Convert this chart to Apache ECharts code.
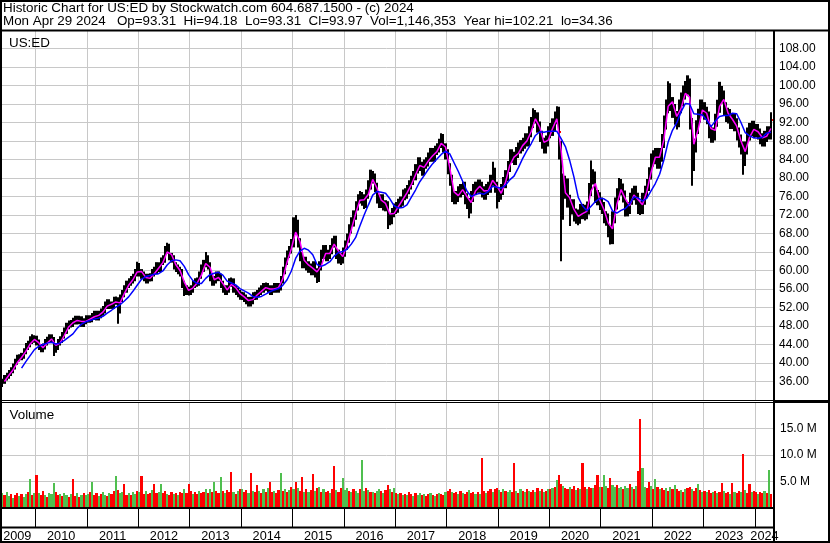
<!DOCTYPE html>
<html>
<head>
<meta charset="utf-8">
<script src="https://cdn.jsdelivr.net/npm/echarts@6/dist/echarts.min.js"></script>
<style>html,body{margin:0;padding:0;background:#fff}#chart{width:830px;height:543px}</style>
</head>
<body>
<div id="chart"></div>
<script>
// ---------------- DATA (semi-monthly periods, late Apr 2009 .. late Apr 2024) ----------------
const firstPeriod = 2009.3125;   // decimal year of the first half-month period
const periodsPerYear = 24;
const yearLabels = ['2009','2010','2011','2012','2013','2014','2015','2016','2017','2018','2019','2020','2021','2022','2023','2024'];
const priceTickStep = 4;
const volumeTickStep = 5;

const closeVals = [
/*2009*/ 35.2,36.0,36.8,37.2,37.8,38.4,39.2,40.2,41.0,41.2,41.5,42.5,43.5,44.0,44.8,45.3,45.2,
/*2010*/ 44.5,43.5,43.0,43.5,44.5,45.0,45.5,45.0,43.0,43.5,44.5,45.0,46.0,47.0,48.0,48.5,48.5,49.0,49.5,49.0,49.5,48.5,49.0,49.5,
/*2011*/ 49.5,49.5,50.0,50.5,50.0,50.5,51.0,51.5,52.5,53.0,52.5,52.5,53.5,53.5,51.5,54.0,55.0,56.0,57.0,57.5,58.0,58.5,59.5,61.0,
/*2012*/ 59.5,59.0,58.5,58.0,58.5,58.5,59.5,60.0,61.0,60.5,62.0,62.5,64.5,65.0,63.0,62.5,61.0,60.5,60.0,59.5,57.0,56.0,55.5,55.5,
/*2013*/ 56.0,57.0,57.5,57.5,59.0,60.5,61.5,62.5,61.0,58.5,57.5,58.0,59.0,58.5,57.0,56.0,55.5,56.0,57.5,57.5,56.0,55.5,55.0,54.5,
/*2014*/ 54.5,54.0,53.5,53.0,53.5,54.5,54.5,55.0,55.5,56.0,56.5,56.5,56.0,55.5,56.0,56.5,56.0,56.5,58.0,60.0,62.0,63.5,64.5,66.0,
/*2015*/ 69.0,70.0,66.0,63.0,61.5,62.0,61.0,60.5,60.0,61.0,59.5,58.5,61.0,63.5,64.5,63.0,63.5,64.5,66.0,66.5,63.5,62.5,62.5,64.0,
/*2016*/ 65.5,67.0,69.0,70.5,72.0,74.0,75.5,76.0,75.5,74.5,76.5,78.5,80.5,80.0,78.0,75.5,74.5,75.5,74.0,74.0,71.5,71.0,72.5,73.5,
/*2017*/ 73.5,74.5,75.0,76.5,76.5,77.5,78.5,79.5,80.5,82.0,83.5,82.5,81.5,83.0,83.5,84.5,85.5,84.5,86.0,86.5,87.5,88.5,86.5,85.0,
/*2018*/ 82.0,79.5,76.0,75.5,76.0,77.0,77.5,78.0,75.5,74.5,73.5,76.0,77.5,78.0,78.5,78.0,77.0,76.5,77.5,78.0,79.5,81.0,78.0,76.0,
/*2019*/ 76.5,77.5,79.0,80.5,82.5,85.0,84.5,84.0,85.5,86.5,87.0,87.5,88.5,88.0,90.0,92.0,93.5,93.0,91.0,89.0,87.5,86.5,88.0,90.0,
/*2020*/ 90.5,91.5,93.0,94.0,90.0,74.0,78.0,78.5,75.0,73.5,74.0,72.0,71.5,71.5,73.0,72.5,72.5,73.5,77.5,80.5,80.0,76.0,75.5,74.5,
/*2021*/ 73.5,71.5,71.0,68.5,67.0,71.5,74.5,76.5,78.5,77.5,76.0,73.0,73.5,75.5,76.5,77.0,75.5,73.5,73.5,75.5,77.0,78.5,81.0,84.0,
/*2022*/ 84.5,85.0,83.5,85.0,88.0,92.0,95.5,99.0,96.0,94.5,93.0,92.5,95.5,97.0,98.5,99.5,101.0,92.0,83.0,87.0,91.0,93.5,95.5,95.0,
/*2023*/ 94.0,93.0,90.0,89.0,89.5,92.5,95.5,98.5,97.5,95.0,93.5,93.5,92.0,92.5,91.5,89.5,88.0,86.5,84.0,86.5,89.5,90.5,91.0,90.0,
/*2024*/ 90.5,89.5,88.5,88.0,89.0,90.0,89.5,92.5
];

const highVals = [
/*2009*/ 36.0,36.6,37.4,37.9,38.5,39.1,39.9,40.9,41.8,41.9,42.2,43.2,44.3,44.8,45.8,46.2,46.0,
/*2010*/ 45.9,45.1,44.1,44.2,45.2,45.7,46.2,46.2,45.6,44.3,45.2,45.8,46.7,47.7,48.7,49.2,49.3,49.8,50.2,50.2,50.2,50.1,49.7,50.3,
/*2011*/ 50.3,50.3,50.8,51.3,51.3,51.3,51.8,52.3,53.3,53.8,53.8,53.3,54.3,54.4,54.2,54.8,55.8,56.8,57.8,58.3,58.8,59.3,60.3,61.9,
/*2012*/ 61.6,60.3,59.8,59.3,59.3,59.4,60.3,60.8,61.8,61.8,62.8,63.3,65.3,66.0,65.8,63.8,63.3,61.8,61.3,60.8,60.3,57.8,56.8,56.5,
/*2013*/ 56.8,57.8,58.3,58.5,59.8,61.3,62.3,64.0,63.3,61.8,59.3,58.8,59.8,59.8,59.3,57.8,56.8,56.8,58.3,58.5,58.3,56.8,56.3,55.8,
/*2014*/ 55.4,55.3,54.8,54.3,54.3,55.3,55.4,55.8,56.3,56.8,57.3,57.4,57.3,56.8,56.8,57.3,57.3,57.3,58.8,60.8,62.8,64.3,65.3,66.8,
/*2015*/ 71.5,72.0,71.0,67.0,64.0,63.0,63.0,62.0,61.5,62.0,62.0,60.5,62.0,64.5,65.5,65.5,64.5,65.5,67.0,67.5,67.5,64.5,63.8,65.0,
/*2016*/ 66.5,68.0,70.0,71.5,73.0,75.0,76.5,77.2,77.0,76.5,77.5,79.5,81.8,81.5,81.0,79.0,76.5,76.5,76.5,75.2,75.0,72.5,73.5,74.5,
/*2017*/ 74.8,75.5,76.0,77.5,77.8,78.5,79.5,80.5,81.5,83.0,84.5,84.5,83.5,84.0,84.5,85.5,86.5,86.5,87.0,87.5,88.5,89.7,89.5,87.5,
/*2018*/ 86.2,83.2,80.7,77.2,77.2,78.2,78.7,79.2,79.2,76.7,75.7,77.2,78.7,79.2,79.7,79.7,79.2,78.2,78.7,79.2,80.7,83.5,82.2,79.2,
/*2019*/ 77.7,78.7,80.2,81.7,83.7,86.2,86.2,85.7,86.7,87.7,88.2,88.7,89.7,89.7,91.2,93.2,95.1,94.7,94.2,92.2,90.2,88.7,89.2,91.2,
/*2020*/ 91.9,92.9,94.4,95.5,95.4,88.0,81.0,80.5,79.9,76.4,75.4,75.4,73.4,73.2,74.4,74.4,74.2,74.9,78.9,83.8,81.9,81.4,77.4,76.9,
/*2021*/ 75.8,74.8,72.8,72.3,69.8,72.8,75.8,77.8,80.0,79.8,78.8,77.3,74.8,76.8,77.8,78.3,78.3,76.8,75.0,76.8,78.3,79.8,82.3,85.3,
/*2022*/ 86.0,86.5,86.5,86.5,89.5,93.5,97.0,100.9,100.5,97.5,96.0,94.5,97.0,98.5,100.0,101.0,102.2,101.5,93.0,88.5,92.5,95.0,97.0,97.0,
/*2023*/ 96.4,95.4,94.4,91.4,90.9,93.9,96.9,100.8,99.9,98.9,96.4,95.2,94.9,93.9,93.9,92.9,90.9,89.4,87.9,87.9,90.9,91.9,92.4,92.4,
/*2024*/ 91.7,91.7,90.7,89.7,90.2,91.2,91.2,94.2
];

const lowVals = [
/*2009*/ 34.4,34.8,35.5,36.2,36.6,37.2,37.8,38.6,39.6,40.3,40.6,40.9,41.9,42.8,43.4,44.1,44.4,
/*2010*/ 43.8,42.8,42.3,42.3,42.9,43.8,44.3,44.3,41.5,42.2,42.8,43.8,44.3,45.3,46.3,47.3,47.7,47.8,48.3,48.3,48.4,47.8,47.8,48.4,
/*2011*/ 48.7,48.7,48.8,49.3,49.2,49.2,49.7,50.2,50.7,51.7,51.7,51.7,51.7,52.6,48.5,50.7,53.2,54.2,55.2,56.2,56.7,57.2,57.7,58.7,
/*2012*/ 58.7,58.2,57.7,57.2,57.2,57.6,57.7,58.7,59.2,59.7,59.7,61.2,61.7,63.7,62.2,61.7,60.2,59.7,59.2,58.7,56.2,54.5,54.7,54.6,
/*2013*/ 54.7,55.2,56.2,56.5,56.7,58.2,59.7,60.7,60.2,57.7,56.7,56.7,57.2,57.7,56.2,55.2,54.7,54.7,55.2,56.5,55.2,54.7,54.2,53.7,
/*2014*/ 53.6,53.2,52.7,52.2,52.2,52.7,53.6,53.7,54.2,54.7,55.2,55.6,55.2,54.7,54.7,55.2,55.2,55.2,55.7,57.2,59.2,61.2,62.7,63.7,
/*2015*/ 65.0,68.0,65.0,62.0,60.5,60.5,60.0,59.5,59.0,59.0,58.5,57.3,57.5,60.0,62.5,62.0,62.0,62.5,63.5,65.0,62.5,61.5,61.2,61.5,
/*2016*/ 63.0,64.5,66.0,68.0,69.5,71.0,73.0,74.5,74.0,73.3,73.5,75.5,77.5,78.8,77.0,74.5,73.5,73.5,73.0,72.8,69.0,69.8,70.0,71.5,
/*2017*/ 72.2,72.5,73.5,74.0,75.2,75.5,76.5,77.5,78.5,79.5,81.0,81.5,80.5,80.5,82.0,82.5,83.5,83.5,83.5,85.0,85.5,86.5,85.5,84.0,
/*2018*/ 80.8,78.3,74.8,74.3,74.3,74.8,75.8,76.3,74.3,73.3,71.3,72.3,74.8,76.3,76.8,76.8,75.8,75.3,75.3,76.3,76.8,78.3,76.8,73.4,
/*2019*/ 74.8,75.3,76.3,77.8,79.3,81.3,83.3,82.8,82.8,84.3,85.3,85.8,86.3,86.8,86.8,88.8,90.8,91.8,89.8,87.8,86.3,85.3,85.3,86.8,
/*2020*/ 88.6,89.1,90.1,91.6,84.0,62.0,71.0,75.5,73.6,69.6,72.1,70.6,70.1,69.8,70.1,71.1,70.8,71.1,72.1,76.1,78.6,74.6,74.1,73.1,
/*2021*/ 72.2,70.2,69.7,67.2,65.6,65.7,70.2,73.2,75.2,76.2,74.7,71.7,71.7,72.2,74.2,75.2,74.2,72.2,72.0,72.2,74.2,75.7,77.2,79.7,
/*2022*/ 82.5,83.0,82.0,82.0,83.5,86.5,90.5,94.0,94.5,93.0,91.5,90.5,91.0,94.0,95.5,97.0,98.0,90.5,78.3,81.5,85.5,89.5,92.0,93.5,
/*2023*/ 92.6,91.6,88.6,87.6,87.6,88.1,91.1,94.1,96.1,93.6,92.1,91.8,90.6,90.6,90.1,88.1,86.6,85.1,80.7,82.6,85.1,88.1,89.1,88.6,
/*2024*/ 88.8,88.3,87.3,86.8,86.8,87.8,88.3,88.3
];

// volume in millions of shares
const volumeM = [
/*2009*/ 6.3,2.8,2.4,3.0,2.2,2.6,1.9,2.5,2.9,2.3,2.7,2.0,2.6,3.1,5.5,2.4,2.8,
/*2010*/ 6.2,2.9,2.5,3.2,2.4,2.1,2.8,2.6,4.8,3.0,2.5,2.7,2.2,2.9,2.4,2.0,2.6,5.5,2.3,2.8,2.1,2.5,2.9,2.4,
/*2011*/ 2.6,3.1,4.9,2.4,2.8,2.2,2.7,3.0,2.5,2.3,2.9,2.6,3.2,6.0,3.4,2.8,3.1,4.6,2.5,2.9,2.4,3.0,2.7,3.3,
/*2012*/ 3.0,6.1,2.7,3.2,2.6,2.9,3.4,4.5,2.8,3.1,4.5,2.9,3.3,2.7,2.5,3.0,2.6,2.9,2.4,3.1,2.8,3.5,2.9,4.5,
/*2013*/ 3.2,2.7,3.0,2.6,3.3,2.8,3.1,3.5,2.9,3.6,3.0,5.0,3.2,2.8,5.8,3.3,2.9,3.4,3.0,6.8,3.1,2.7,3.2,3.5,
/*2014*/ 3.6,3.1,3.4,2.9,6.6,3.3,3.0,4.4,3.2,2.8,3.5,3.1,3.8,4.9,3.0,3.3,2.8,3.4,6.6,3.2,3.6,3.0,3.4,3.9,
/*2015*/ 3.5,5.0,3.8,3.3,5.8,3.1,3.6,3.0,3.4,6.4,3.2,3.7,3.9,3.1,3.5,3.0,3.3,2.9,3.6,7.9,3.4,3.1,3.8,5.6,
/*2016*/ 3.4,3.7,3.2,3.0,3.5,3.3,2.9,3.6,9.1,3.2,3.8,3.4,3.1,3.0,2.8,3.3,3.6,3.2,2.9,3.4,4.3,3.5,3.1,3.7,
/*2017*/ 2.9,2.6,2.8,2.4,2.7,2.5,3.0,2.6,2.3,2.8,2.5,2.9,2.4,2.7,2.2,2.6,2.8,2.5,2.3,2.7,2.9,2.6,2.4,3.0,
/*2018*/ 3.2,3.6,3.0,2.8,3.1,2.7,3.3,2.9,2.6,3.0,3.4,2.8,3.1,2.7,3.0,2.6,9.5,3.2,2.9,3.3,3.6,3.1,3.5,3.8,
/*2019*/ 3.4,3.0,3.6,3.2,3.0,3.4,3.1,8.5,3.3,2.9,3.5,3.2,3.0,3.6,3.3,3.1,3.4,3.0,3.7,3.2,3.5,3.1,3.3,3.6,
/*2020*/ 3.5,3.8,4.0,5.3,6.2,4.6,4.1,3.8,3.5,3.9,3.6,4.2,3.4,3.7,3.5,8.5,3.9,3.6,4.0,3.7,3.8,4.3,6.3,3.9,
/*2021*/ 4.0,6.2,4.1,3.8,5.6,4.3,3.9,4.4,3.7,4.0,3.6,4.1,3.8,4.5,3.9,3.6,4.2,7.0,16.8,7.5,4.0,3.7,4.9,4.2,
/*2022*/ 3.6,5.4,3.9,3.5,3.8,3.4,3.7,3.3,3.9,3.5,4.4,3.6,3.2,3.4,3.0,3.5,3.8,4.0,3.6,3.3,3.7,4.6,3.4,3.1,
/*2023*/ 3.2,3.0,3.4,2.9,3.1,3.3,2.8,3.0,4.7,3.2,2.9,3.1,2.7,4.7,3.0,2.8,3.3,3.0,10.1,3.4,2.9,4.6,3.1,3.3,
/*2024*/ 3.0,2.7,3.1,2.8,3.2,2.9,7.2,2.6
];

// volume bar colour read per period: g = up (green), r = down (red)
const volumeColours = [
/*2009*/ 'rgrggrgrrgrggrgrg',
/*2010*/ 'rgrrgrgggrrgrggrgrrgrgrg',
/*2011*/ 'grgrrgrggrgrrgrggrrgrggr',
/*2012*/ 'grrgrrgrrggrrgrrgrgrrgrr',
/*2013*/ 'rgrrgrrgrgrgrrgrgrrrgrgr',
/*2014*/ 'grrgrgrrgrgrgrrgrrgrgrgr',
/*2015*/ 'grgrrgrgrrgrgrgrrgrrgrrg',
/*2016*/ 'ggrgrggrggrgrgrggrgrrgrg',
/*2017*/ 'rgrgrgrrgrggrgrrgrgrgrrg',
/*2018*/ 'rrgrrgrgrrgrrgrgrrgrrgrr',
/*2019*/ 'grgrggrrgrgrgrgrrgrgrgrg',
/*2020*/ 'rgrgrrgrrgrrgrgrrgrrgrrg',
/*2021*/ 'rggrrggrggrggrgrgrrggrrg',
/*2022*/ 'rgrgrrgrgrgrrgrgrrgrrgrg',
/*2023*/ 'rgrrgrgrrgrrgrgrrgrgrrgr',
/*2024*/ 'rgrrgrgr'
];

// moving averages read at monthly steps (one value per month from late Apr 2009)
const maFast = [
null,36.0,37.3,38.5,40.1,41.2,42.5,44.1,45.1,44.4,43.3,44.3,
45.2,43.8,44.3,46.0,47.8,48.7,49.2,49.0,49.0,49.5,50.0,50.3,
51.0,52.3,52.7,53.2,53.0,55.0,56.8,58.0,59.7,59.8,58.5,58.3,
59.3,60.5,61.7,64.0,63.5,61.3,60.0,57.5,55.7,56.2,57.3,59.0,
61.5,60.7,58.0,58.5,57.2,55.8,57.0,56.3,55.0,54.3,53.5,53.7,
54.7,55.5,56.3,56.0,56.0,56.3,58.2,61.8,64.7,68.3,66.3,62.2,
61.2,60.5,59.7,61.0,63.7,63.7,65.7,64.2,63.0,65.5,68.8,72.2,
75.2,75.3,76.5,79.7,77.8,75.2,74.5,72.2,72.3,73.8,75.3,76.8,
78.5,80.7,82.7,82.3,83.7,84.8,85.7,87.5,86.7,82.2,77.0,76.2,
77.5,76.0,74.7,77.2,78.2,77.2,77.3,79.5,78.3,76.7,79.0,82.7,
84.5,85.3,87.0,88.0,90.0,92.8,91.0,87.7,88.2,90.7,92.8,86.0,
76.8,75.7,73.2,71.7,72.3,72.8,77.2,78.8,75.3,73.2,70.3,69.0,
74.2,77.5,75.5,74.0,76.3,75.3,74.2,77.0,81.2,84.5,84.5,88.3,
95.5,96.5,93.3,95.0,98.3,97.5,87.3,90.5,94.7,94.0,90.7,90.3,
95.5,97.0,94.0,92.7,91.2,88.0,85.7,88.8,90.5,90.0,88.7,89.0,
90.7
];

const maSlow = [
null,null,null,null,null,38.9,40.3,41.6,42.9,43.6,44.0,44.3,
44.5,44.1,44.3,44.9,45.6,46.3,47.5,48.4,48.9,49.2,49.5,49.7,
50.1,50.8,51.4,52.1,52.6,53.4,54.3,55.5,56.8,58.1,58.7,58.9,
59.2,59.3,59.9,61.2,62.1,62.3,62.1,60.9,59.1,57.8,57.2,57.2,
58.3,59.1,59.4,59.6,59.0,57.7,57.3,56.9,56.1,55.6,55.1,54.4,
54.2,54.4,54.9,55.4,55.8,56.1,56.8,58.0,59.9,62.6,64.2,64.8,
64.4,63.4,61.3,60.9,61.3,61.9,63.1,63.9,64.1,64.6,65.7,67.1,
69.6,72.0,74.2,76.3,77.1,76.9,76.7,75.5,74.0,73.5,73.6,74.2,
75.8,77.4,79.2,80.5,81.9,83.1,84.1,85.1,85.8,85.2,83.3,81.4,
79.3,77.2,76.0,76.4,76.7,76.5,77.1,78.2,78.0,77.8,78.4,79.6,
80.4,82.2,84.2,85.9,87.4,89.2,90.0,89.9,90.1,90.1,90.1,88.5,
86.8,83.8,80.2,75.8,74.0,72.9,73.9,74.9,75.6,75.5,74.9,72.9,
72.4,73.0,73.4,74.4,75.9,75.7,75.0,75.6,77.2,78.8,80.8,83.9,
87.8,90.3,91.9,94.3,96.1,96.0,93.9,93.8,93.6,92.5,91.1,92.3,
93.3,93.5,93.5,94.0,93.9,92.0,89.8,89.1,88.7,88.6,88.8,89.7,
89.9
];

const headerLine1 = 'Historic Chart for US:ED by Stockwatch.com 604.687.1500 - (c) 2024';
const headerLine2 = 'Mon Apr 29 2024   Op=93.31  Hi=94.18  Lo=93.31  Cl=93.97  Vol=1,146,353  Year hi=102.21  lo=34.36';
const symbolLabel = 'US:ED';
const volumeLabel = 'Volume';

// ---------------- BUILD ----------------
const FONT = '"Liberation Sans", Arial, Helvetica, sans-serif';
const GRID_C = '#c8c8c8';
const RED = '#ff0000', GREEN = '#4fbf4f';
const X_MIN = 2009, X_MAX = 2024.372;
const GL = -15.9, GW = 789.9;

const colourFlags = volumeColours.join('');
const n = Math.min(closeVals.length, highVals.length, lowVals.length, volumeM.length);
const tOf = i => firstPeriod + i / periodsPerYear;
const candleData = [], volData = [];
for (let i = 0; i < n; i++) {
  candleData.push([tOf(i), lowVals[i], highVals[i], closeVals[i]]);
  volData.push([tOf(i), volumeM[i], colourFlags[i] === 'g' ? 1 : 0]);
}
const maPoints = arr => arr.map((v, m) => v == null ? null : [firstPeriod + m / 12, v]).filter(p => p);
const visStart = firstPeriod - 0.5 / periodsPerYear;
const visEnd = X_MAX;
const labelData = yearLabels.map((s, k) => {
  const y = +s;
  const a = Math.max(y, visStart), b = Math.min(y + 1, visEnd);
  return [(a + b) / 2, 0.5];
});

// pixel-snapped horizontal extent of one period centred at px
function snapSpan(px, w) {
  const x0 = Math.floor(px - w / 2 + 0.5);
  const x1 = Math.floor(px + w / 2 + 0.5);
  return [x0, Math.max(1, x1 - x0)];
}

const chart = echarts.init(document.getElementById('chart'), null, {renderer: 'canvas'});

function baseX(gridIndex, extra) {
  return Object.assign({
    gridIndex, type: 'value', min: X_MIN, max: X_MAX, interval: 1,
    axisLine: {show: false}, axisTick: {show: false}, axisLabel: {show: false},
    splitLine: {show: true, lineStyle: {color: GRID_C, width: 1}}
  }, extra || {});
}

const option = {
  animation: false,
  backgroundColor: '#ffffff',
  grid: [
    {left: GL, width: GW, top: 30, height: 370, containLabel: false, outerBoundsMode: 'none'},
    {left: GL, width: GW, top: 402, height: 106, containLabel: false, outerBoundsMode: 'none'},
    {left: GL, width: GW, top: 528, height: 13, containLabel: false, outerBoundsMode: 'none'}
  ],
  xAxis: [
    baseX(0),
    baseX(1, {
      axisLine: {show: true, onZero: false, lineStyle: {color: '#000', width: 2}},
      axisTick: {show: true, inside: false, length: 19, lineStyle: {color: '#000', width: 1}}
    }),
    baseX(2, {show: false, splitLine: {show: false}})
  ],
  yAxis: [
    {gridIndex: 0, type: 'value', position: 'right', min: 32, max: 112, interval: priceTickStep,
     axisLine: {show: false}, axisTick: {show: false},
     splitLine: {show: true, lineStyle: {color: GRID_C, width: 1}},
     axisLabel: {show: true, color: '#000', fontSize: 12, fontFamily: FONT, margin: 5, align: 'left',
       padding: [3, 0, 0, 0],
       showMinLabel: false, showMaxLabel: false, formatter: v => v.toFixed(2)}},
    {gridIndex: 1, type: 'value', position: 'right', min: 0, max: 20, interval: volumeTickStep,
     axisLine: {show: false}, axisTick: {show: false},
     splitLine: {show: true, lineStyle: {color: GRID_C, width: 1}},
     axisLabel: {show: true, color: '#000', fontSize: 12, fontFamily: FONT, margin: 6, align: 'left',
       padding: [3, 0, 0, 0],
       showMinLabel: false, showMaxLabel: false, formatter: v => v.toFixed(1) + ' M'}},
    {gridIndex: 2, type: 'value', min: 0, max: 1, show: false}
  ],
  series: [
    {
      // close ticks (drawn under the bars, so only those sticking out stay visible)
      type: 'custom', xAxisIndex: 0, yAxisIndex: 0, data: candleData, z: 1,
      encode: {x: 0, y: 3},
      renderItem: (params, api) => {
        const t = api.value(0);
        const pc = api.coord([t, api.value(3)]);
        const w = api.size([1 / periodsPerYear, 0])[0];
        const s = snapSpan(pc[0], w);
        return {type: 'rect', shape: {x: s[0] + s[1], y: Math.round(pc[1]) - 1, width: 1, height: 2},
                style: {fill: RED}};
      }
    },
    {
      type: 'custom', xAxisIndex: 0, yAxisIndex: 0, data: candleData, z: 2,
      encode: {x: 0, y: [1, 2, 3]},
      renderItem: (params, api) => {
        const t = api.value(0);
        const pl = api.coord([t, api.value(1)]);
        const ph = api.coord([t, api.value(2)]);
        const w = api.size([1 / periodsPerYear, 0])[0];
        const s = snapSpan(pl[0], w);
        return {type: 'rect', shape: {x: s[0], y: ph[1], width: s[1], height: Math.max(1, pl[1] - ph[1])},
                style: {fill: '#000'}};
      }
    },
    {
      type: 'line', xAxisIndex: 0, yAxisIndex: 0, data: maPoints(maFast), z: 4,
      showSymbol: false, symbol: 'none', lineStyle: {color: '#ff00ff', width: 1.5}, silent: true
    },
    {
      type: 'line', xAxisIndex: 0, yAxisIndex: 0, data: maPoints(maSlow), z: 5,
      showSymbol: false, symbol: 'none', lineStyle: {color: '#0000ff', width: 1.5}, silent: true
    },
    {
      type: 'custom', xAxisIndex: 1, yAxisIndex: 1, data: volData, z: 2,
      encode: {x: 0, y: 1},
      renderItem: (params, api) => {
        const t = api.value(0);
        const p0 = api.coord([t, 0]);
        const p1 = api.coord([t, api.value(1)]);
        const w = api.size([1 / periodsPerYear, 0])[0];
        const s = snapSpan(p0[0], w);
        return {type: 'rect', shape: {x: s[0], y: Math.round(p1[1]), width: s[1], height: Math.round(p0[1]) - Math.round(p1[1])},
                style: {fill: api.value(2) ? GREEN : RED}};
      }
    },
    {
      type: 'custom', xAxisIndex: 2, yAxisIndex: 2, data: labelData, z: 5,
      encode: {x: 0, y: 1},
      renderItem: (params, api) => {
        const p = api.coord([api.value(0), api.value(1)]);
        return {type: 'text', x: p[0], y: p[1] + 2,
                style: {text: yearLabels[params.dataIndex], fill: '#000', font: '12.7px ' + FONT,
                        align: 'center', verticalAlign: 'middle'}};
      }
    }
  ],
  graphic: [
    {type: 'text', x: 3, y: 8.2, z: 100, style: {text: headerLine1, fill: '#000', font: '13.4px ' + FONT, verticalAlign: 'middle'}},
    {type: 'text', x: 3, y: 21.8, z: 100, style: {text: headerLine2, fill: '#000', font: '13.4px ' + FONT, verticalAlign: 'middle'}},
    {type: 'text', x: 9, y: 43, z: 100, style: {text: symbolLabel, fill: '#000', font: '13.4px ' + FONT, verticalAlign: 'middle'}},
    {type: 'text', x: 9.5, y: 415, z: 100, style: {text: volumeLabel, fill: '#000', font: '13.4px ' + FONT, verticalAlign: 'middle'}},
    // frame & panel separators
    {type: 'rect', z: 100, shape: {x: 1, y: 1, width: 828, height: 541}, style: {fill: 'none', stroke: '#000', lineWidth: 2}},
    {type: 'line', z: 100, shape: {x1: 0, y1: 30.5, x2: 830, y2: 30.5}, style: {stroke: '#000', lineWidth: 2}},
    {type: 'line', z: 100, shape: {x1: 774, y1: 30, x2: 774, y2: 543}, style: {stroke: '#000', lineWidth: 2}},
    {type: 'line', z: 100, shape: {x1: 0, y1: 400.5, x2: 830, y2: 400.5}, style: {stroke: '#000', lineWidth: 1}},
    {type: 'line', z: 100, shape: {x1: 0, y1: 402.5, x2: 830, y2: 402.5}, style: {stroke: '#000', lineWidth: 1}},
    {type: 'rect', z: 100, shape: {x: 774, y: 400, width: 56, height: 3}, style: {fill: '#000'}},
    {type: 'line', z: 100, shape: {x1: 0, y1: 508, x2: 774, y2: 508}, style: {stroke: '#000', lineWidth: 2}},
    {type: 'line', z: 100, shape: {x1: 0, y1: 527.5, x2: 774, y2: 527.5}, style: {stroke: '#000', lineWidth: 2}}
  ]
};
chart.setOption(option);
</script>
</body>
</html>
